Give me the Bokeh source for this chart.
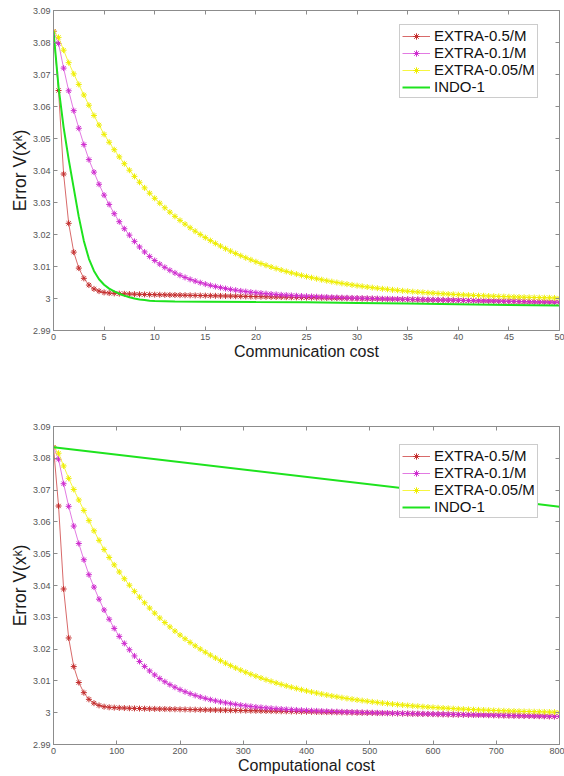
from bokeh.plotting import figure
from bokeh.layouts import column
from bokeh.models import FixedTicker, CustomJSTickFormatter, LinearAxis
from bokeh.embed import file_html
from bokeh.resources import INLINE

# ---------------- data ----------------
comm_cost = [0, 0.5, 1, 1.5, 2, 2.5, 3, 3.5, 4, 4.5, 5, 5.5, 6, 6.5, 7, 7.5, 8, 8.5, 9, 9.5,
             10, 10.5, 11, 11.5, 12, 12.5, 13, 13.5, 14, 14.5, 15, 15.5, 16, 16.5, 17, 17.5, 18, 18.5, 19, 19.5,
             20, 20.5, 21, 21.5, 22, 22.5, 23, 23.5, 24, 24.5, 25, 25.5, 26, 26.5, 27, 27.5, 28, 28.5, 29, 29.5,
             30, 30.5, 31, 31.5, 32, 32.5, 33, 33.5, 34, 34.5, 35, 35.5, 36, 36.5, 37, 37.5, 38, 38.5, 39, 39.5,
             40, 40.5, 41, 41.5, 42, 42.5, 43, 43.5, 44, 44.5, 45, 45.5, 46, 46.5, 47, 47.5, 48, 48.5, 49, 49.5, 50]

comp_cost = [0, 8, 16, 24, 32, 40, 48, 56, 64, 72, 80, 88, 96, 104, 112, 120, 128, 136, 144, 152,
             160, 168, 176, 184, 192, 200, 208, 216, 224, 232, 240, 248, 256, 264, 272, 280, 288, 296, 304, 312,
             320, 328, 336, 344, 352, 360, 368, 376, 384, 392, 400, 408, 416, 424, 432, 440, 448, 456, 464, 472,
             480, 488, 496, 504, 512, 520, 528, 536, 544, 552, 560, 568, 576, 584, 592, 600, 608, 616, 624, 632,
             640, 648, 656, 664, 672, 680, 688, 696, 704, 712, 720, 728, 736, 744, 752, 760, 768, 776, 784, 792, 800]

extra_05 = [3.0835, 3.0650, 3.0389, 3.0235, 3.0145, 3.0095, 3.0063, 3.0042, 3.0030, 3.0023,
            3.0019, 3.00170, 3.00160, 3.00152, 3.00146, 3.00140, 3.00135, 3.00131, 3.00127, 3.00123,
            3.00120, 3.00117, 3.00114, 3.00111, 3.00108, 3.00105, 3.00102, 3.00099, 3.00096, 3.00093,
            3.00090, 3.00087, 3.00084, 3.00081, 3.00078, 3.00075, 3.00072, 3.00069, 3.00066, 3.00063,
            3.00060, 3.00057, 3.00054, 3.00051, 3.00048, 3.00045, 3.00042, 3.00039, 3.00036, 3.00033,
            3.00030, 3.00027, 3.00024, 3.00021, 3.00018, 3.00015, 3.00012, 3.00009, 3.00006, 3.00003,
            3.00000, 2.99997, 2.99994, 2.99991, 2.99988, 2.99985, 2.99982, 2.99979, 2.99976, 2.99973,
            2.99970, 2.99967, 2.99964, 2.99961, 2.99958, 2.99955, 2.99952, 2.99949, 2.99946, 2.99943,
            2.99940, 2.99937, 2.99934, 2.99931, 2.99928, 2.99925, 2.99922, 2.99919, 2.99916, 2.99913,
            2.99910, 2.99907, 2.99904, 2.99901, 2.99898, 2.99895, 2.99892, 2.99889, 2.99886, 2.99883,
            2.99880]

extra_01 = [3.0835, 3.0797, 3.0720, 3.0649, 3.0587, 3.0532, 3.0481, 3.0434, 3.0395, 3.0357,
            3.0323, 3.0294, 3.0265, 3.0240, 3.0218, 3.01980, 3.01785, 3.01611, 3.01455, 3.01314,
            3.01188, 3.01075, 3.00974, 3.00882, 3.00800, 3.00725, 3.00659, 3.00598, 3.00544, 3.00495,
            3.00450, 3.00410, 3.00374, 3.00341, 3.00311, 3.00284, 3.00260, 3.00237, 3.00217, 3.00198,
            3.00181, 3.00166, 3.00152, 3.00139, 3.00127, 3.00115, 3.00105, 3.00096, 3.00087, 3.00079,
            3.00071, 3.00064, 3.00057, 3.00051, 3.00044, 3.00039, 3.00033, 3.00028, 3.00023, 3.00018,
            3.00014, 3.00009, 3.00005, 3.00001, 2.99997, 2.99993, 2.99989, 2.99985, 2.99982, 2.99978,
            2.99975, 2.99971, 2.99968, 2.99965, 2.99962, 2.99959, 2.99956, 2.99953, 2.99950, 2.99947,
            2.99944, 2.99940, 2.99937, 2.99934, 2.99931, 2.99928, 2.99925, 2.99922, 2.99919, 2.99916,
            2.99913, 2.99910, 2.99907, 2.99904, 2.99901, 2.99898, 2.99895, 2.99892, 2.99889, 2.99886,
            2.99883]

extra_005 = [3.0835, 3.0816, 3.0776, 3.0737, 3.0702, 3.0669, 3.0636, 3.0604, 3.0572, 3.0542,
             3.05130, 3.04883, 3.04649, 3.04425, 3.04212, 3.04009, 3.03816, 3.03632, 3.03457, 3.03290,
             3.03131, 3.02979, 3.02835, 3.02698, 3.02567, 3.02442, 3.02324, 3.02211, 3.02103, 3.02001,
             3.01903, 3.01810, 3.01722, 3.01637, 3.01557, 3.01480, 3.01408, 3.01338, 3.01272, 3.01209,
             3.01149, 3.01092, 3.01038, 3.00986, 3.00937, 3.00890, 3.00845, 3.00802, 3.00762, 3.00723,
             3.00686, 3.00651, 3.00618, 3.00586, 3.00556, 3.00527, 3.00500, 3.00473, 3.00448, 3.00425,
             3.00402, 3.00381, 3.00360, 3.00341, 3.00322, 3.00304, 3.00287, 3.00271, 3.00256, 3.00242,
             3.00228, 3.00214, 3.00202, 3.00190, 3.00178, 3.00168, 3.00157, 3.00147, 3.00138, 3.00129,
             3.00120, 3.00112, 3.00105, 3.00097, 3.00090, 3.00084, 3.00077, 3.00071, 3.00065, 3.00060,
             3.00055, 3.00050, 3.00045, 3.00040, 3.00036, 3.00032, 3.00028, 3.00024, 3.00021, 3.00017,
             3.00014]

indo_comm_x = [0, 0.5, 1, 1.5, 2, 2.5, 3, 3.5, 4, 4.5, 5, 5.5, 6, 6.5, 7, 7.5, 8, 8.5, 9, 9.5, 10,
               12, 15, 20, 25, 30, 35, 40, 45, 50]
indo_comm_y = [3.0835, 3.0660, 3.0535, 3.0435, 3.0345, 3.0255, 3.0180, 3.0124, 3.0086, 3.0060,
               3.0043, 3.0031, 3.0022, 3.0015, 3.0009, 3.0004, 3.0000, 2.9997, 2.9995, 2.9993,
               2.9992, 2.99905, 2.9990, 2.99888, 2.9988, 2.9986, 2.9984, 2.9982, 2.9980, 2.9978]

indo_comp_x = [0, 800]
indo_comp_y = [3.0835, 3.0648]

y_ticks = [2.99, 3.0, 3.01, 3.02, 3.03, 3.04, 3.05, 3.06, 3.07, 3.08, 3.09]
comm_ticks = [0, 5, 10, 15, 20, 25, 30, 35, 40, 45, 50]
comp_ticks = [0, 100, 200, 300, 400, 500, 600, 700, 800]

labels = ["EXTRA-0.5/M", "EXTRA-0.1/M", "EXTRA-0.05/M", "INDO-1"]

# ---------------- style ----------------
FONT = "Liberation Sans"
AX = "#8c8c8c"
styles = [("#d86a6a", "#c42f2f"), ("#e27ae2", "#cf2ccf"), ("#f6f640", "#eeee00")]
GREEN = "#1ee31e"
FRAME_H = 320


def style_axis(ax, ticks, show_labels=True):
    ax.ticker = FixedTicker(ticks=ticks)
    ax.axis_line_color = AX
    ax.major_tick_line_color = AX
    ax.major_tick_in = 4
    ax.major_tick_out = 0
    ax.minor_tick_line_color = None
    ax.major_label_text_font = FONT
    ax.major_label_text_font_size = "9px"
    ax.major_label_text_color = "#555555"
    ax.major_label_standoff = 3
    ax.axis_label_text_font = FONT
    ax.axis_label_text_font_style = "normal"
    ax.axis_label_text_font_size = "16px"
    ax.axis_label_text_color = "#1a1a1a"
    ax.axis_label_standoff = 0
    if not show_labels:
        ax.major_label_text_font_size = "1px"
        ax.major_label_text_color = None
        ax.major_label_standoff = 0


def make_fig(xs, series, gx, gy, x_end, xticks, xlabel, btop, bbot, leg_y):
    p = figure(width=564, height=btop + FRAME_H + bbot, x_range=(0, x_end), y_range=(2.99, 3.09),
               output_backend="svg", toolbar_location=None,
               min_border_left=53, min_border_right=5,
               min_border_top=btop, min_border_bottom=bbot)
    p.xgrid.grid_line_color = None
    p.ygrid.grid_line_color = None
    p.outline_line_color = AX
    p.background_fill_color = "white"
    p.border_fill_color = "white"

    style_axis(p.xaxis[0], xticks)
    style_axis(p.yaxis[0], y_ticks)
    p.yaxis[0].formatter = CustomJSTickFormatter(
        code="return (Math.round(tick*100)/100).toString();")
    p.xaxis[0].axis_label = xlabel
    p.yaxis[0].axis_label = "Error V(xᵏ)"
    p.yaxis[0].axis_label_text_font_size = "17.5px"

    top = LinearAxis()
    style_axis(top, xticks, False)
    p.add_layout(top, "above")
    right = LinearAxis()
    style_axis(right, y_ticks, False)
    p.add_layout(right, "right")

    for ys, (lc, mc), lab in zip(series, styles, labels[:3]):
        p.line(xs, ys, line_color=lc, line_width=1, legend_label=lab)
        p.scatter(xs, ys, marker="asterisk", size=6, line_color=mc, line_width=1,
                  legend_label=lab)
    p.line(gx, gy, line_color=GREEN, line_width=2, legend_label=labels[3])

    lg = p.legend[0]
    lg.location = (346, leg_y)
    lg.margin = 0
    lg.padding = 2
    lg.spacing = 0
    lg.label_height = 16
    lg.glyph_height = 16
    lg.glyph_width = 28
    lg.label_standoff = 4
    lg.label_text_font = FONT
    lg.label_text_font_size = "15px"
    lg.label_text_color = "#111111"
    lg.border_line_color = "#9a9a9a"
    lg.border_line_width = 1
    lg.background_fill_color = "white"
    lg.background_fill_alpha = 1
    return p


series = [extra_05, extra_01, extra_005]
p1 = make_fig(comm_cost, series, indo_comm_x, indo_comm_y, 50, comm_ticks,
              "Communication cost", 10, 42, 232)
p2 = make_fig(comp_cost, series, indo_comp_x, indo_comp_y, 800, comp_ticks,
              "Computational cost", 54, 30, 226)

layout = column(p1, p2, spacing=0)
open("out.html", "w").write(file_html(layout, INLINE))
